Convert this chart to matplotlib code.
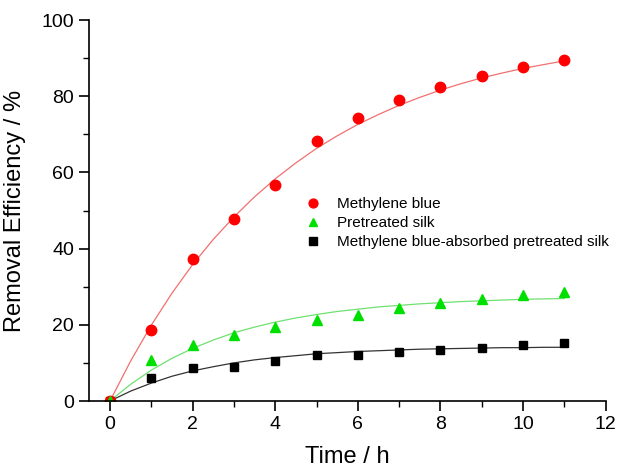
# Removal efficiency vs time for methylene blue, pretreated silk and MB-absorbed silk
import matplotlib.pyplot as plt

plt.rcParams['font.family'] = ['Liberation Sans', 'DejaVu Sans']

# measured points
t = [0, 1, 2, 3, 4, 5, 6, 7, 8, 9, 10, 11]
mb = [0, 18.7, 37.3, 47.7, 56.8, 68.3, 74.4, 78.9, 82.5, 85.3, 87.7, 89.4]
silk = [0, 10.7, 14.6, 17.4, 19.5, 21.2, 22.5, 24.5, 25.6, 26.9, 27.7, 28.7]
mb_silk = [0, 6.0, 8.7, 9.0, 10.5, 12.0, 12.1, 12.9, 13.5, 14.0, 14.6, 15.3]

# fitted curves, every half hour
t_fit = [0, 0.5, 1, 1.5, 2, 2.5, 3, 3.5, 4, 4.5, 5, 5.5, 6, 6.5, 7, 7.5, 8,
         8.5, 9, 9.5, 10, 10.5, 11]
mb_fit = [0, 10.5, 19.9, 28.3, 35.8, 42.4, 48.3, 53.6, 58.3, 62.5, 66.3, 69.6,
          72.6, 75.2, 77.6, 79.7, 81.6, 83.3, 84.8, 86.1, 87.3, 88.3, 89.3]
silk_fit = [0, 4.4, 8.1, 11.2, 13.8, 16.0, 17.9, 19.4, 20.7, 21.8, 22.7, 23.5,
            24.1, 24.7, 25.1, 25.5, 25.8, 26.1, 26.3, 26.5, 26.7, 26.8, 26.9]
mb_silk_fit = [0, 2.6, 4.7, 6.5, 7.9, 9.0, 10.0, 10.8, 11.4, 11.9, 12.4, 12.7,
               13.0, 13.2, 13.4, 13.6, 13.7, 13.8, 13.9, 14.0, 14.0, 14.1, 14.1]

fig = plt.figure(figsize=(6.34, 4.71), dpi=100)
ax = fig.add_axes([0.1396, 0.1486, 0.8157, 0.8089])

ax.plot(t_fit, mb_fit, color='#f07070', linewidth=0.9)
ax.plot(t_fit, silk_fit, color='#70e070', linewidth=0.9)
ax.plot(t_fit, mb_silk_fit, color='#333333', linewidth=0.9)

ax.plot(t, mb_silk, 's', color='black', markersize=6.3, label='Methylene blue-absorbed pretreated silk')
ax.plot(t, mb, 'o', color='#ff0000', markersize=7.5, label='Methylene blue')
ax.plot(t, silk, '^', color='#00e000', markersize=7.5, label='Pretreated silk')

handles, labels = ax.get_legend_handles_labels()
order = [1, 2, 0]
leg = ax.legend([handles[i] for i in order], [labels[i] for i in order],
                loc='center left', bbox_to_anchor=(305 / 634, 1 - 223 / 471),
                bbox_transform=fig.transFigure, frameon=False, fontsize=11,
                handlelength=1.0, handletextpad=1.1, labelspacing=0.33,
                borderpad=0, borderaxespad=0, markerscale=0.85)

ax.set_xlim(-0.52, 12)
ax.set_ylim(0, 100)
ax.set_xticks(range(0, 13, 2))
ax.set_xticks(range(1, 12, 2), minor=True)
ax.set_yticks(range(0, 101, 20))
ax.set_yticks(range(10, 100, 20), minor=True)

ax.spines['top'].set_visible(False)
ax.spines['right'].set_visible(False)
for s in ['left', 'bottom']:
    ax.spines[s].set_linewidth(1.2)
ax.tick_params(which='major', direction='out', length=7, width=1.2, labelsize=14)
ax.tick_params(which='minor', direction='out', length=4, width=1.0)

ax.set_xlabel('Time / h', fontsize=17, labelpad=10)
ax.set_ylabel('Removal Efficiency / %', fontsize=17, labelpad=11)

plt.savefig('out.png', dpi=100)
